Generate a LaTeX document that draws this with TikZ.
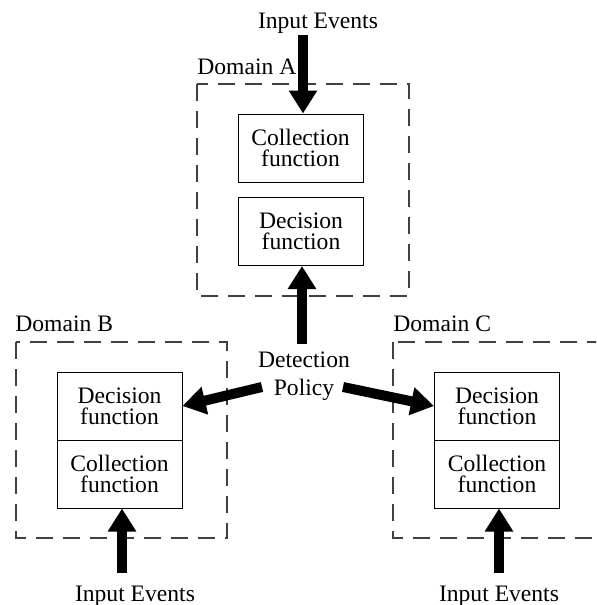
\documentclass[tikz,border=0pt]{standalone}
\usepackage{fontspec}
\setmainfont{Liberation Serif}
\usetikzlibrary{arrows.meta}

\tikzset{
  fbox/.style={draw,line width=0.5pt,minimum width=62.5pt,minimum height=34pt,inner sep=0pt,
    align=center,font=\fontsize{11.8}{10.5}\selectfont},
  lbl/.style={inner sep=0pt,font=\fontsize{11.8}{14}\selectfont},
  domainbox/.style={draw=black!75,line width=0.6pt,dash pattern=on 8.5pt off 5pt},
  bigarrow/.style={line width=5pt,-{Triangle[width=13.5pt,length=11.5pt]}}
}

\begin{document}
\begin{tikzpicture}[x=0.5pt,y=-0.5pt]
\useasboundingbox (0,0) rectangle (596,605);
\clip (0,0) rectangle (596,605);

% domain A
\draw[domainbox] (197,84) rectangle (409,296);
\node[lbl,anchor=base west] (labA) at (197,74) {Domain A};
\node[fbox] (colA) at (300.5,148) {Collection\\function};
\node[fbox] (decA) at (301,231.5) {Decision\\function};
\node[lbl,anchor=base] (inA) at (318,28) {Input Events};

% domain B
\draw[domainbox] (16,342) rectangle (227,538);
\node[lbl,anchor=base west] (labB) at (15,331) {Domain B};
\node[fbox] (decB) at (119.5,406) {Decision\\function};
\node[fbox] (colB) at (119.5,474) {Collection\\function};
\node[lbl,anchor=base] (inB) at (135,601) {Input Events};

% domain C
\draw[domainbox] (393,342) rectangle (640,538);
\node[lbl,anchor=base west] (labC) at (393,331) {Domain C};
\node[fbox] (decC) at (497,406) {Decision\\function};
\node[fbox] (colC) at (497,474) {Collection\\function};
\node[lbl,anchor=base] (inC) at (499,601) {Input Events};

% policy
\node[lbl,align=center,anchor=base] (policy) at (304,395) {Detection\\Policy};

\coordinate (srcA) at (303,35);
\coordinate (srcB) at (122,573);
\coordinate (srcC) at (499,573);
\coordinate (polA) at (302,344);
\coordinate (polB) at (262,387);
\coordinate (polC) at (343,387);

\draw[bigarrow] (srcA) -- (colA.north -| srcA);
\draw[bigarrow] (polA) -- (decA.south -| polA);
\draw[bigarrow] (polB) -- (decB.east);
\draw[bigarrow] (polC) -- (decC.west);
\draw[bigarrow] (srcB) -- (colB.south -| srcB);
\draw[bigarrow] (srcC) -- (colC.south -| srcC);
\end{tikzpicture}
\end{document}
